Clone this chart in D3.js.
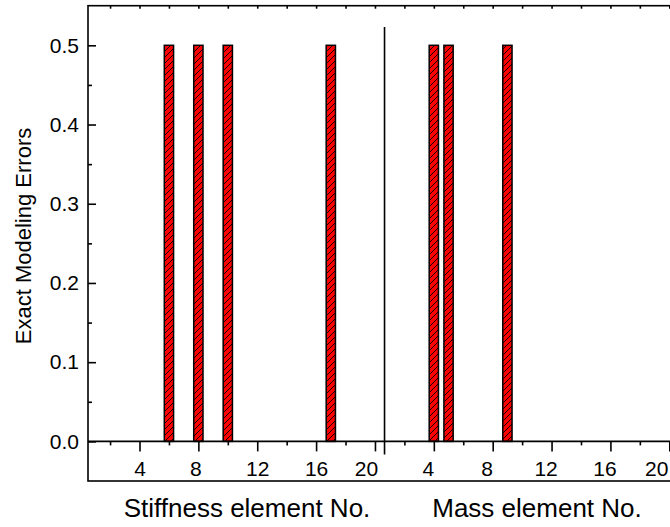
<!DOCTYPE html>
<html>
<head>
<meta charset="utf-8">
<script src="https://cdn.jsdelivr.net/npm/d3@7/dist/d3.min.js"></script>
<style>
  body { margin: 0; background: #fff; }
  svg { display: block; font-family: "Liberation Sans", Arial, sans-serif; }
</style>
</head>
<body>
<div id="chart"></div>
<script>
const stiffnessElements = [6, 8, 10, 17];
const stiffnessErrors = [0.5, 0.5, 0.5, 0.5];
const massElements = [4, 5, 9];
const massErrors = [0.5, 0.5, 0.5];
const xTickLabels = [4, 8, 12, 16, 20];
const yTickValues = [0.0, 0.1, 0.2, 0.3, 0.4, 0.5];
const MASS_OFFSET = 20; // mass elements are drawn right after the 20 stiffness elements

const WIDTH = 670, HEIGHT = 527;
const BAR_W = 0.63;
const LINE = 1.6;

const svg = d3.select("#chart").append("svg")
  .attr("width", WIDTH).attr("height", HEIGHT);

const x = d3.scaleLinear().domain([0.5, 41]).range([88, 684]);
const y = d3.scaleLinear().domain([-0.05, 0.55]).range([481, 5.7]);

// hatch pattern for the bars
const defs = svg.append("defs");
const pat = defs.append("pattern")
  .attr("id", "hatch").attr("patternUnits", "userSpaceOnUse")
  .attr("width", 6).attr("height", 6);
pat.append("rect").attr("width", 6).attr("height", 6).attr("fill", "#ff0000");
pat.append("path").attr("d", "M-1,7 L7,-1 M-4,4 L4,-4 M2,10 L10,2")
  .attr("stroke", "#000").attr("stroke-width", 0.9);

const bars = stiffnessElements.map((e, i) => ({ pos: e, value: stiffnessErrors[i] }))
  .concat(massElements.map((e, i) => ({ pos: e + MASS_OFFSET, value: massErrors[i] })));

svg.append("g").selectAll("rect").data(bars).enter().append("rect")
  .attr("x", d => x(d.pos - BAR_W / 2))
  .attr("width", d => x(d.pos + BAR_W / 2) - x(d.pos - BAR_W / 2))
  .attr("y", d => y(d.value))
  .attr("height", d => y(0) - y(d.value))
  .attr("fill", "url(#hatch)")
  .attr("stroke", "#000").attr("stroke-width", 1.5);

// y axis, ticks inward
svg.append("g").attr("transform", `translate(${x(0.5)},0)`)
  .call(d3.axisLeft(y).tickValues(yTickValues).tickSize(-8).tickPadding(9)
    .tickFormat(d3.format(".1f")));
svg.append("g").attr("transform", `translate(${x(0.5)},0)`)
  .call(d3.axisLeft(y).tickValues(d3.range(0.05, 0.55, 0.1)).tickSize(-4).tickFormat(""));

// bottom axis drawn on the y = 0 line
const xTicks = xTickLabels.concat(xTickLabels.map(v => v + MASS_OFFSET));
const bottom = svg.append("g").attr("transform", `translate(0,${y(0)})`)
  .call(d3.axisBottom(x).tickValues(xTicks).tickSize(10).tickPadding(10)
    .tickFormat(d => d > MASS_OFFSET ? d - MASS_OFFSET : d));
// labels sit a little left of their ticks, as in the original
bottom.selectAll(".tick text")
  .attr("dx", d => d === 20 ? -9 : d === 40 ? -13 : d > MASS_OFFSET ? -6 : d === 8 ? -3 : 0);
svg.append("g").attr("transform", `translate(0,${y(0)})`)
  .call(d3.axisBottom(x).tickValues(d3.range(2, 41, 4)).tickSize(4).tickFormat(""));

// top axis, small inward ticks
svg.append("g").attr("transform", `translate(0,${y(0.55)})`)
  .call(d3.axisBottom(x).tickValues(d3.range(2, 41, 2)).tickSize(3).tickFormat(""));

svg.selectAll(".domain").remove();
svg.selectAll(".tick line").attr("stroke", "#000").attr("stroke-width", LINE);
svg.selectAll(".tick text").attr("font-size", 21).attr("fill", "#000")
  .attr("font-family", "Liberation Sans, Arial, sans-serif");

// frame
const frame = svg.append("g").attr("stroke", "#000").attr("stroke-width", LINE).attr("fill", "none");
frame.append("rect")
  .attr("x", x(0.5)).attr("y", y(0.55))
  .attr("width", x(41) - x(0.5)).attr("height", y(-0.05) - y(0.55));
frame.append("line")
  .attr("x1", x(0.5)).attr("x2", x(41)).attr("y1", y(0)).attr("y2", y(0));
// divider between the two element groups
frame.append("line")
  .attr("x1", x(20.65)).attr("x2", x(20.65))
  .attr("y1", y(0.523)).attr("y2", y(0) + 13);

// titles
svg.append("text")
  .attr("transform", `translate(31,236) rotate(-90)`)
  .attr("text-anchor", "middle").attr("font-size", 22)
  .text("Exact Modeling Errors");
svg.append("text")
  .attr("x", 247).attr("y", 517).attr("text-anchor", "middle").attr("font-size", 26)
  .text("Stiffness element No.");
svg.append("text")
  .attr("x", 537).attr("y", 517).attr("text-anchor", "middle").attr("font-size", 26)
  .text("Mass element No.");
</script>
</body>
</html>
